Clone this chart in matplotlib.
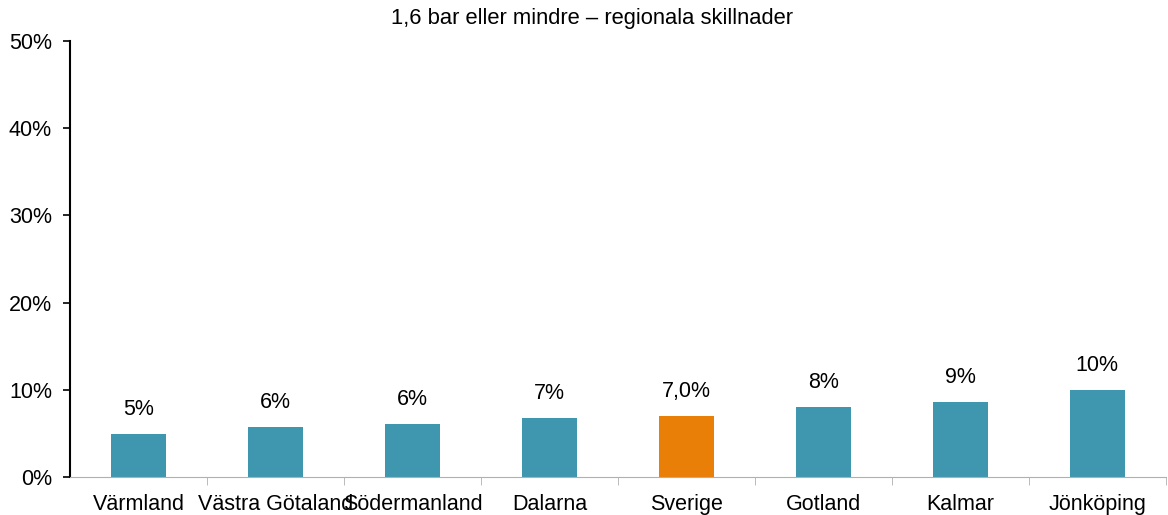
import numpy as np
import matplotlib.pyplot as plt

plt.rcParams['font.family'] = ['Liberation Sans', 'DejaVu Sans']

regions = ["Värmland", "Västra Götaland", "Södermanland", "Dalarna",
           "Sverige", "Gotland", "Kalmar", "Jönköping"]
values = [4.9, 5.7, 6.05, 6.8, 7.0, 8.0, 8.6, 10.0]
labels = ["5%", "6%", "6%", "7%", "7,0%", "8%", "9%", "10%"]
highlight = "Sverige"

teal = "#3E97AE"
orange = "#EA7F07"

fig = plt.figure(figsize=(11.68, 5.15), dpi=100)
ax = fig.add_axes([0.06, 0.074, 0.938, 0.846])

x = np.arange(len(regions))
colors = [orange if r == highlight else teal for r in regions]
bars = ax.bar(x, values, width=0.4, color=colors, zorder=2)

for b, lab in zip(bars, labels):
    ax.annotate(lab, (b.get_x() + b.get_width() / 2, b.get_height()),
                xytext=(0, 10), textcoords="offset points",
                ha="center", va="bottom", fontsize=15.5)

ax.set_xlim(-0.5, len(regions) - 0.5)
ax.set_ylim(0, 50)
ax.set_yticks(range(0, 51, 10))
ax.set_yticklabels([f"{v}%" for v in range(0, 51, 10)], fontsize=15.5)
ax.set_xticks(x)
ax.set_xticklabels(regions, fontsize=15.5)
ax.tick_params(axis="x", length=0, pad=12)
ax.set_xticks(np.arange(0.5, len(regions), 1), minor=True)
ax.tick_params(axis="x", which="minor", length=6, color="#b0b0b0")
ax.tick_params(axis="y", length=5, width=1.2, pad=8)

ax.spines["top"].set_visible(False)
ax.spines["right"].set_visible(False)
ax.spines["bottom"].set_color("#b0b0b0")
ax.spines["left"].set_linewidth(1.5)

# title is centred on the whole figure, not the axes
fig.suptitle("1,6 bar eller mindre – regionala skillnader", fontsize=15.8,
             x=0.507, y=0.965, va="center")

fig.savefig("out.png", dpi=100)
